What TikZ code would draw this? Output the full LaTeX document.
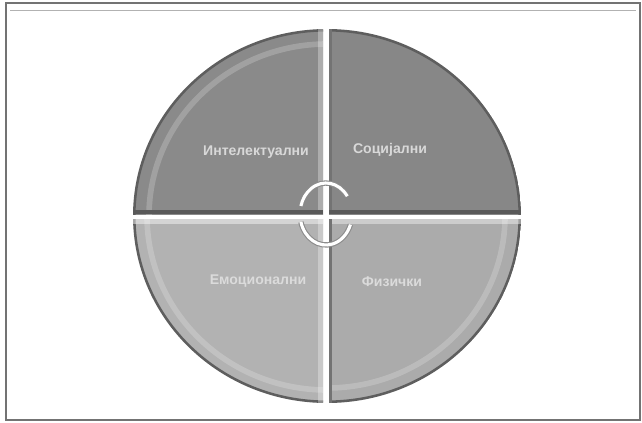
\documentclass[tikz,border=0pt]{standalone}
\usepackage{fontspec}
\setmainfont{Liberation Sans}
\usepackage{xcolor}
\usepackage{tikz}
\definecolor{quadtop}{HTML}{8A8A8A}
\definecolor{quadtopr}{HTML}{878787}
\definecolor{quadbot}{HTML}{B2B2B2}
\definecolor{quadbotr}{HTML}{ABABAB}
\definecolor{rimdark}{HTML}{5E5E5E}
\definecolor{labelgray}{HTML}{D8D8D8}

\tikzset{
  rim/.style={draw=rimdark, line width=2.2pt},
  rimglow/.style={draw=white, opacity=0.2, line width=4pt},
  quadlabel/.style={font=\bfseries\fontsize{10}{12}\selectfont, text=labelgray},
  cyclearc/.style={draw=black!45, double=white, double distance=2.2pt, line width=0.8pt}
}

\begin{document}
\begin{tikzpicture}[x=0.025cm, y=0.025cm]
  \useasboundingbox (0,0) rectangle (642,422);
  \fill[white] (0,0) rectangle (642,422);
  % frame
  \draw[black!55, line width=1.2pt] (6,2) rectangle (640,419);
  \draw[black!30, line width=0.5pt] (10,412) -- (636,412);

  % top left
  \begin{scope}
    \clip (0,208) rectangle (323,422);
    \clip (327,206) ellipse [x radius=194, y radius=187];
    \fill[quadtop] (327,206) ellipse [x radius=193, y radius=186];
    \draw[rimglow] (327,206) ellipse [x radius=178, y radius=172];
    \draw[rim] (327,206) ellipse [x radius=193, y radius=186];
    \fill[black!65] (0,208) rectangle (323,212);
    \fill[white, opacity=0.3] (318,212) rectangle (323,422);
  \end{scope}
  % top right
  \begin{scope}
    \clip (329,208) rectangle (642,422);
    \clip (327,206) ellipse [x radius=194, y radius=187];
    \fill[quadtopr] (327,206) ellipse [x radius=193, y radius=186];
    \draw[rim] (327,206) ellipse [x radius=193, y radius=186];
    \fill[black!65] (329,208) rectangle (642,212);
    \fill[black!55] (329,212) rectangle (332,422);
  \end{scope}
  % bottom left
  \begin{scope}
    \clip (0,0) rectangle (323,203);
    \clip (327,206) ellipse [x radius=194, y radius=187];
    \fill[quadbot] (327,206) ellipse [x radius=193, y radius=186];
    \draw[rimglow] (327,206) ellipse [x radius=180, y radius=174];
    \draw[rim] (327,206) ellipse [x radius=193, y radius=186];
    \fill[white, opacity=0.45] (0,198) rectangle (323,203);
    \fill[white, opacity=0.3] (318,0) rectangle (323,203);
  \end{scope}
  % bottom right
  \begin{scope}
    \clip (329,0) rectangle (642,203);
    \clip (327,206) ellipse [x radius=194, y radius=187];
    \fill[quadbotr] (327,206) ellipse [x radius=193, y radius=186];
    \draw[rimglow] (327,206) ellipse [x radius=178, y radius=172];
    \draw[rim] (327,206) ellipse [x radius=193, y radius=186];
    \fill[white, opacity=0.4] (329,198) rectangle (642,203);
    \fill[black!55] (329,0) rectangle (332,203);
  \end{scope}

  \node[quadlabel] (intel) at (256,270) {Интелектуални};
  \node[quadlabel] (social) at (390,272) {Социјални};
  \node[quadlabel, text=black!14] (emot) at (258,141) {Емоционални};
  \node[quadlabel, text=black!14] (phys) at (392,140) {Физички};

  % cycle arrows
  \coordinate (hub) at (326,208);
  \draw[cyclearc] ([shift={(35:26 and 31)}]hub) arc [start angle=35, end angle=165, x radius=26, y radius=31];
  \draw[cyclearc] ([shift={(195:26 and 31)}]hub) arc [start angle=195, end angle=340, x radius=26, y radius=31];
\end{tikzpicture}
\end{document}
